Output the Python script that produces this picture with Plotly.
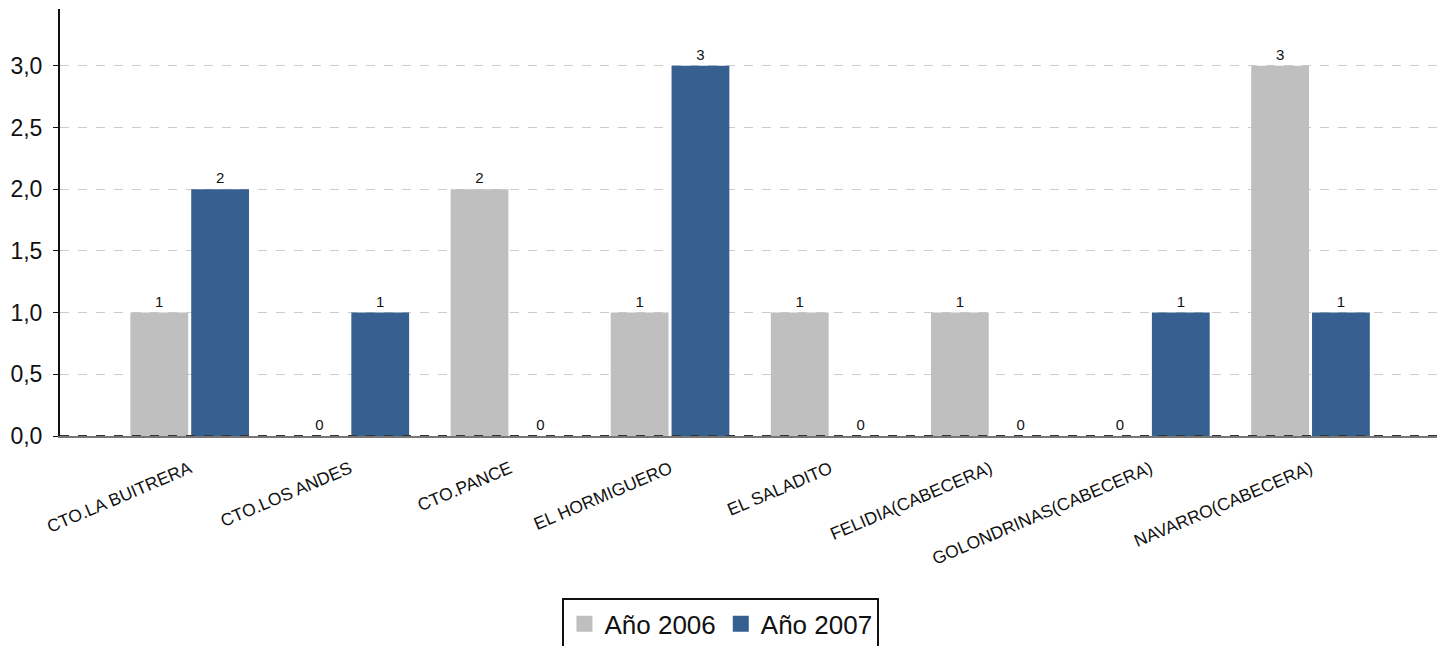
import plotly.graph_objects as go

categories = ["CTO.LA BUITRERA", "CTO.LOS ANDES", "CTO.PANCE", "EL HORMIGUERO",
              "EL SALADITO", "FELIDIA(CABECERA)", "GOLONDRINAS(CABECERA)", "NAVARRO(CABECERA)"]
vals_2006 = [1, 0, 2, 1, 1, 1, 0, 3]
vals_2007 = [2, 1, 0, 3, 0, 0, 1, 1]
series_names = ["Año 2006", "Año 2007"]
colors = ["#BFBFBF", "#36608F"]

fig = go.Figure()
for name, vals, col in zip(series_names, [vals_2006, vals_2007], colors):
    fig.add_trace(go.Bar(
        x=categories, y=vals, name=name, marker_color=col, marker_line_width=0,
        text=[str(v) for v in vals], textposition="outside",
        textfont=dict(size=15, color="#111111"), cliponaxis=False,
        showlegend=False,
    ))
# legend entries with larger square swatches
for name, col in zip(series_names, colors):
    fig.add_trace(go.Scatter(
        x=[None], y=[None], mode="markers", name=name,
        marker=dict(symbol="square", size=22, color=col), showlegend=True,
    ))

fig.update_layout(
    width=1444, height=646,
    margin=dict(l=60, r=7, t=9, b=210, autoexpand=False),
    plot_bgcolor="white", paper_bgcolor="white",
    font=dict(family="Liberation Sans, Arial, sans-serif", color="#111111"),
    barmode="group", bargap=0.24, bargroupgap=0.05,
    separators=",.",
    showlegend=True,
    legend=dict(orientation="h", x=0.48, xanchor="center", y=-0.38, yanchor="top",
                bordercolor="#111111", borderwidth=2, font=dict(size=26),
                itemwidth=30, traceorder="normal", tracegroupgap=0),
    xaxis=dict(type="category", range=[-0.81, 7.79], tickangle=-23,
               tickfont=dict(size=17.5), showline=True, linecolor="#777777", linewidth=2,
               showgrid=False, ticks="", automargin=False, ticklabelstandoff=14),
    yaxis=dict(range=[0, 3.46], dtick=0.5, tickformat=".1f", tickfont=dict(size=23),
               showline=True, linecolor="#111111", linewidth=2, ticks="outside",
               ticklen=5, tickcolor="#111111", automargin=False, ticklabelstandoff=6,
               showgrid=True, gridcolor="#CCCCCC", griddash="dash", gridwidth=1,
               zeroline=False),
)
fig.add_shape(type="line", xref="paper", yref="y", x0=0, x1=1, y0=0, y1=0,
              line=dict(color="#333333", width=2, dash="dash"))

fig.write_html("out.html", config={"displayModeBar": False},
               post_script="document.body.style.margin='0';")
